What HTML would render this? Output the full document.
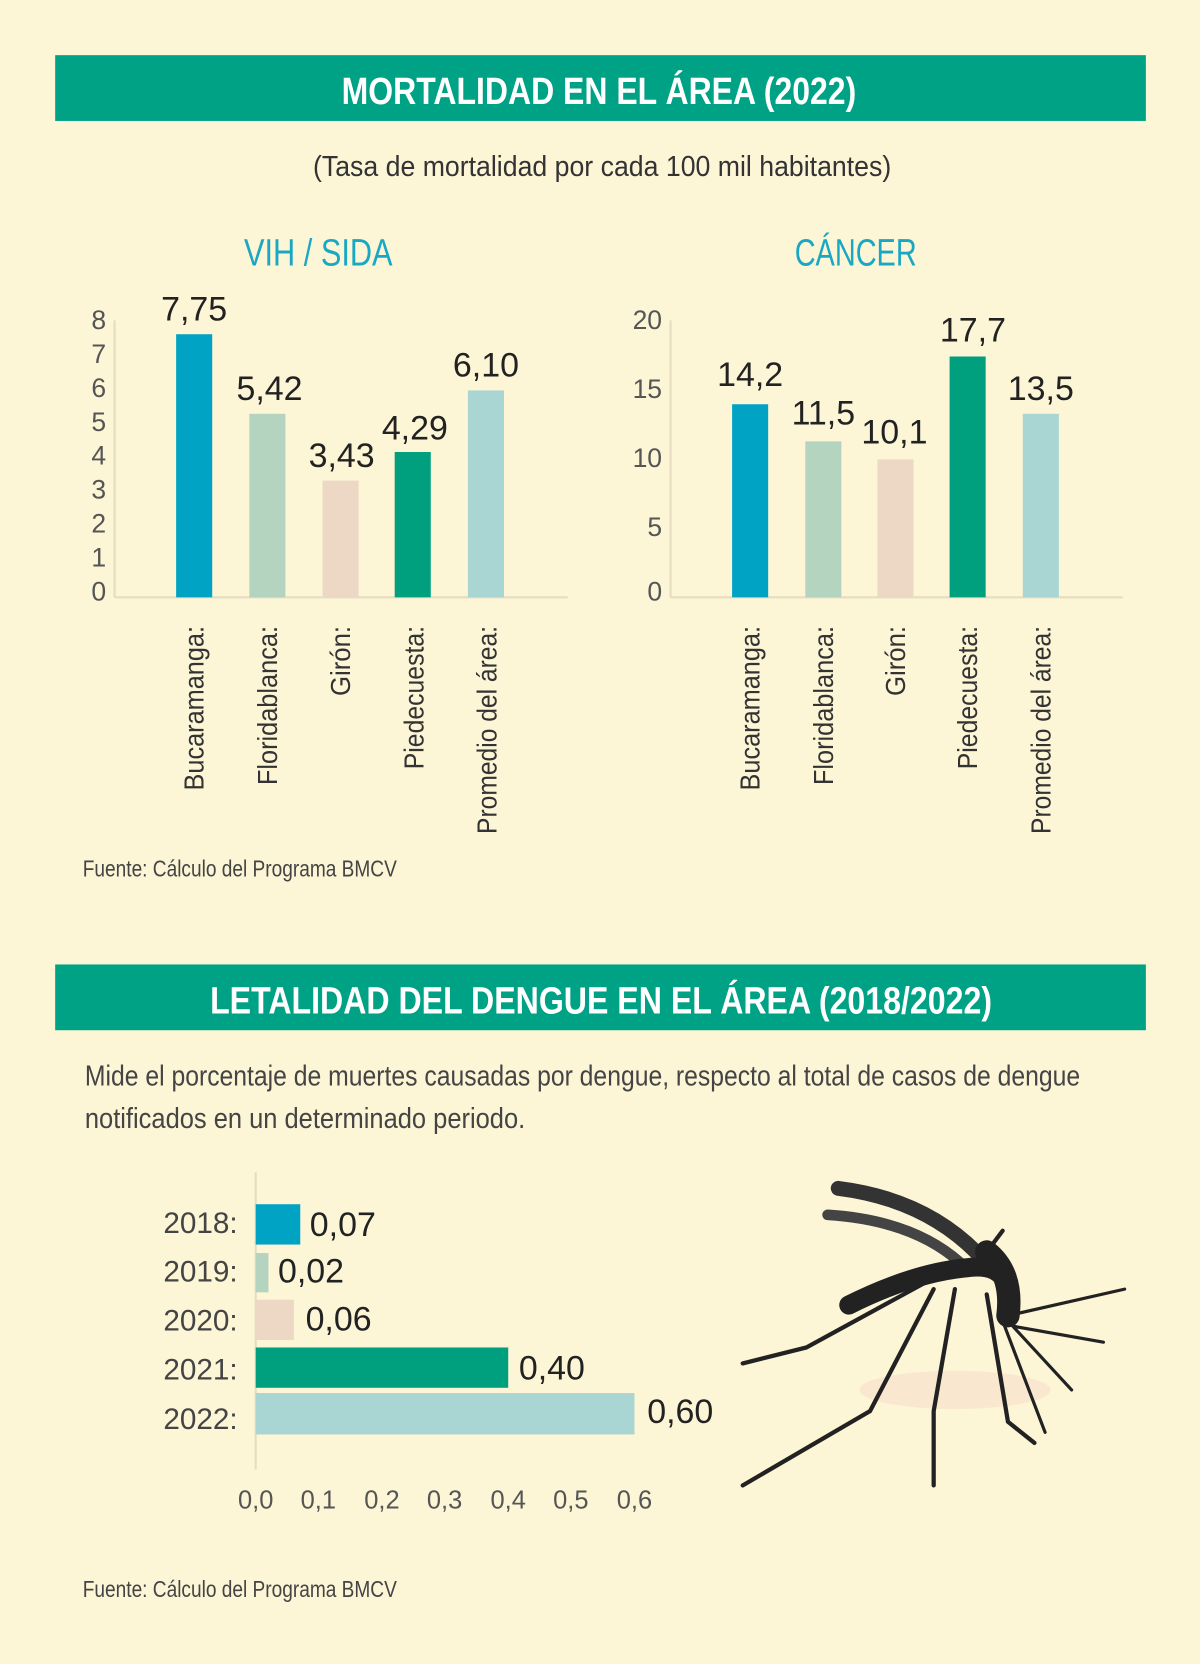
<!DOCTYPE html>
<html><head><meta charset="utf-8"><style>
body{margin:0;background:#fcf5d6;}
#w{position:relative;width:1131px;height:1568px;transform:scale(1.061);transform-origin:0 0;background:#fcf5d6;}
</style></head><body><div id="w">
<svg style="position:absolute;left:0;top:0" width="1131" height="1568" font-family="Liberation Sans, sans-serif">
<rect x="52" y="52" width="1028" height="62" fill="#00a286"/>
<text x="322" y="98" font-size="36" font-weight="bold" fill="#fff" textLength="485" lengthAdjust="spacingAndGlyphs">MORTALIDAD EN EL ÁREA (2022)</text>
<text x="295" y="166" font-size="27" fill="#333" textLength="545" lengthAdjust="spacingAndGlyphs">(Tasa de mortalidad por cada 100 mil habitantes)</text>
<text x="230" y="250" font-size="36" fill="#19a8c4" textLength="140" lengthAdjust="spacingAndGlyphs">VIH / SIDA</text>
<text x="749" y="250" font-size="36" fill="#19a8c4" textLength="115" lengthAdjust="spacingAndGlyphs">CÁNCER</text>

<g font-size="25" fill="#555" text-anchor="end">
<text x="100" y="310">8</text><text x="100" y="342">7</text><text x="100" y="374">6</text><text x="100" y="406">5</text><text x="100" y="438">4</text><text x="100" y="470">3</text><text x="100" y="502">2</text><text x="100" y="534">1</text><text x="100" y="566">0</text>
<text x="624" y="310">20</text><text x="624" y="375">15</text><text x="624" y="440">10</text><text x="624" y="505">5</text><text x="624" y="566">0</text>
</g>
<line x1="108" y1="302" x2="108" y2="563" stroke="#e8dcc0" stroke-width="2"/>
<line x1="108" y1="563" x2="535" y2="563" stroke="#e8dcc0" stroke-width="2"/>
<line x1="632" y1="302" x2="632" y2="563" stroke="#e8dcc0" stroke-width="2"/>
<line x1="632" y1="563" x2="1058" y2="563" stroke="#e8dcc0" stroke-width="2"/>
<rect x="166" y="315" width="34" height="248" fill="#00a3c4"/>
<rect x="235" y="390" width="34" height="173" fill="#b5d4bf"/>
<rect x="304" y="453" width="34" height="110" fill="#ecd8c4"/>
<rect x="372" y="426" width="34" height="137" fill="#00a07f"/>
<rect x="441" y="368" width="34" height="195" fill="#a9d6d2"/>
<rect x="690" y="381" width="34" height="182" fill="#00a3c4"/>
<rect x="759" y="416" width="34" height="147" fill="#b5d4bf"/>
<rect x="827" y="433" width="34" height="130" fill="#ecd8c4"/>
<rect x="895" y="336" width="34" height="227" fill="#00a07f"/>
<rect x="964" y="390" width="34" height="173" fill="#a9d6d2"/>
<g font-size="32" fill="#222" text-anchor="middle">
<text x="183" y="302">7,75</text><text x="254" y="377">5,42</text><text x="322" y="440">3,43</text><text x="391" y="414">4,29</text><text x="458" y="355">6,10</text>
<text x="707" y="364">14,2</text><text x="776" y="400">11,5</text><text x="843" y="418">10,1</text><text x="917" y="322">17,7</text><text x="981" y="377">13,5</text>
</g>
<g font-size="26" fill="#333" text-anchor="end" lengthAdjust="spacingAndGlyphs">
<text transform="translate(192,590) rotate(-90)" textLength="155" lengthAdjust="spacingAndGlyphs">Bucaramanga:</text>
<text transform="translate(261,590) rotate(-90)" textLength="150" lengthAdjust="spacingAndGlyphs">Floridablanca:</text>
<text transform="translate(330,590) rotate(-90)" textLength="66" lengthAdjust="spacingAndGlyphs">Girón:</text>
<text transform="translate(399,590) rotate(-90)" textLength="135" lengthAdjust="spacingAndGlyphs">Piedecuesta:</text>
<text transform="translate(468,590) rotate(-90)" textLength="196" lengthAdjust="spacingAndGlyphs">Promedio del área:</text>
<text transform="translate(716,590) rotate(-90)" textLength="155" lengthAdjust="spacingAndGlyphs">Bucaramanga:</text>
<text transform="translate(785,590) rotate(-90)" textLength="150" lengthAdjust="spacingAndGlyphs">Floridablanca:</text>
<text transform="translate(853,590) rotate(-90)" textLength="66" lengthAdjust="spacingAndGlyphs">Girón:</text>
<text transform="translate(921,590) rotate(-90)" textLength="135" lengthAdjust="spacingAndGlyphs">Piedecuesta:</text>
<text transform="translate(990,590) rotate(-90)" textLength="196" lengthAdjust="spacingAndGlyphs">Promedio del área:</text>
</g>
<text x="78" y="826" font-size="22" fill="#444" textLength="296" lengthAdjust="spacingAndGlyphs">Fuente: Cálculo del Programa BMCV</text>

<rect x="52" y="909" width="1028" height="62" fill="#00a286"/>
<text x="198" y="955" font-size="36" font-weight="bold" fill="#fff" textLength="737" lengthAdjust="spacingAndGlyphs">LETALIDAD DEL DENGUE EN EL ÁREA (2018/2022)</text>
<text x="80" y="1023" font-size="27" fill="#444" textLength="938" lengthAdjust="spacingAndGlyphs">Mide el porcentaje de muertes causadas por dengue, respecto al total de casos de dengue</text>
<text x="80" y="1063" font-size="27" fill="#444" textLength="415" lengthAdjust="spacingAndGlyphs">notificados en un determinado periodo.</text>

<line x1="241" y1="1105" x2="241" y2="1385" stroke="#e8dcc0" stroke-width="2"/>
<rect x="241" y="1135" width="42" height="38" fill="#00a3c4"/>
<rect x="241" y="1181" width="12" height="37" fill="#b5d4bf"/>
<rect x="241" y="1225" width="36" height="38" fill="#ecd8c4"/>
<rect x="241" y="1270" width="238" height="38" fill="#00a07f"/>
<rect x="241" y="1313" width="357" height="39" fill="#a9d6d2"/>
<g font-size="28" fill="#444" text-anchor="end">
<text x="224" y="1162">2018:</text><text x="224" y="1208">2019:</text><text x="224" y="1254">2020:</text><text x="224" y="1300">2021:</text><text x="224" y="1347">2022:</text>
</g>
<g font-size="32" fill="#222">
<text x="292" y="1165">0,07</text><text x="262" y="1209">0,02</text><text x="288" y="1254">0,06</text><text x="489" y="1300">0,40</text><text x="610" y="1341">0,60</text>
</g>
<g font-size="24" fill="#555" text-anchor="middle">
<text x="241" y="1422">0,0</text><text x="300" y="1422">0,1</text><text x="360" y="1422">0,2</text><text x="419" y="1422">0,3</text><text x="479" y="1422">0,4</text><text x="538" y="1422">0,5</text><text x="598" y="1422">0,6</text>
</g>
<g stroke="#222" fill="none" stroke-linecap="round">
<ellipse cx="900" cy="1310" rx="90" ry="18" fill="#f5dcc8" stroke="none" opacity="0.5"/>
<path d="M790 1120 Q870 1130 920 1180" stroke-width="14" stroke="#333"/>
<path d="M780 1145 Q860 1150 905 1190" stroke-width="10" stroke="#444"/>
<path d="M800 1230 Q860 1200 910 1195 Q945 1190 950 1215" stroke-width="18" stroke="#222"/>
<path d="M930 1180 Q955 1200 950 1240" stroke-width="22" stroke="#222"/>
<path d="M950 1240 L1060 1215 M955 1250 L1040 1265 M950 1245 L1010 1310 M945 1245 L985 1350" stroke-width="3"/>
<path d="M870 1210 L760 1270 L700 1285" stroke-width="4"/>
<path d="M880 1215 L820 1330 L700 1400" stroke-width="4"/>
<path d="M900 1215 L880 1330 L880 1400" stroke-width="4"/>
<path d="M930 1220 L950 1340 L975 1360" stroke-width="4"/>
<path d="M915 1200 L945 1160" stroke-width="4"/>
</g>
<text x="78" y="1505" font-size="22" fill="#444" textLength="296" lengthAdjust="spacingAndGlyphs">Fuente: Cálculo del Programa BMCV</text>
</svg>
</div></body></html>
